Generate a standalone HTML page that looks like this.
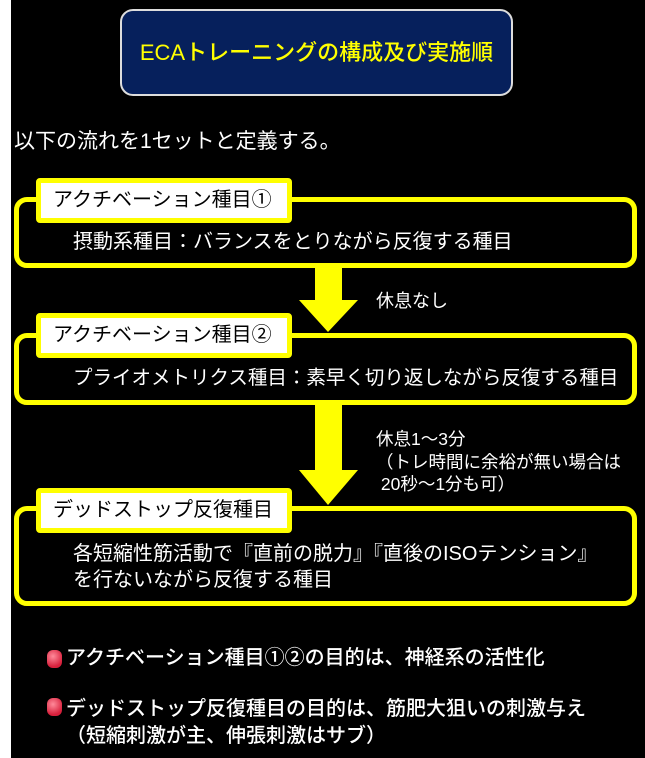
<!DOCTYPE html>
<html><head><meta charset="utf-8"><style>
body{margin:0;width:645px;height:758px;background:#000;position:relative;overflow:hidden;font-family:"Liberation Sans","Noto Sans CJK JP",sans-serif;color:#fff}
.a{position:absolute;white-space:nowrap;line-height:1}
.box{position:absolute;border:5px solid #ff0;border-radius:13px;box-sizing:border-box}
.tab{position:absolute;background:#fff;border:5px solid #ff0;border-radius:4px;box-sizing:border-box;color:#000;font-size:20px;line-height:34px;padding-left:12px;white-space:nowrap}
.bul{position:absolute;width:15px;height:18px;border-radius:6px;background:radial-gradient(circle at 40% 35%,#ff8a9a,#d8203c 70%)}
</style></head><body>
<div style="position:absolute;left:0;top:0;width:11px;height:758px;background:#fff"></div>
<div style="position:absolute;left:120px;top:9px;width:393px;height:87px;box-sizing:border-box;border:2px solid #ddd;border-radius:13px;background:#06205c;color:#ff0;font-size:22px;font-weight:500;text-align:center;line-height:83px;white-space:nowrap">ECAトレーニングの構成及び実施順</div>
<div class="a" style="left:14px;top:131px;font-size:21px">以下の流れを1セットと定義する。</div>

<div class="box" style="left:14px;top:197px;width:623px;height:71px"></div>
<div class="tab" style="left:36px;top:178px;width:256px;height:45px">アクチベーション種目①</div>
<div class="a" style="left:73px;top:232px;font-size:20px">摂動系種目：バランスをとりながら反復する種目</div>

<svg style="position:absolute;left:0;top:0" width="645" height="758"><polygon points="315,268 342,268 342,300 358,300 328,332 299,300 315,300" fill="#ff0"/><polygon points="315,405 342,405 342,470 358,470 328,505 299,470 315,470" fill="#ff0"/></svg>
<div class="a" style="left:376px;top:292px;font-size:18px">休息なし</div>

<div class="box" style="left:14px;top:333px;width:623px;height:72px"></div>
<div class="tab" style="left:36px;top:313px;width:256px;height:45px">アクチベーション種目②</div>
<div class="a" style="left:73px;top:369px;font-size:19.5px">プライオメトリクス種目：素早く切り返しながら反復する種目</div>

<div class="a" style="left:376px;top:428px;font-size:17.5px;line-height:22.5px">休息1～3分<br>（トレ時間に余裕が無い場合は<br>&nbsp;20秒～1分も可）</div>

<div class="box" style="left:14px;top:506px;width:623px;height:100px"></div>
<div class="tab" style="left:36px;top:488px;width:256px;height:45px">デッドストップ反復種目</div>
<div class="a" style="left:73px;top:541px;font-size:20px;line-height:26px">各短縮性筋活動で『直前の脱力』『直後のISOテンション』<br>を行ないながら反復する種目</div>

<div class="bul" style="left:47px;top:650px"></div>
<div class="a" style="left:66px;top:648px;font-size:20px;font-weight:500">アクチベーション種目①②の目的は、神経系の活性化</div>
<div class="bul" style="left:47px;top:698px"></div>
<div class="a" style="left:66px;top:696px;font-size:20px;font-weight:500;line-height:27px">デッドストップ反復種目の目的は、筋肥大狙いの刺激与え<br>（短縮刺激が主、伸張刺激はサブ）</div>
</body></html>
